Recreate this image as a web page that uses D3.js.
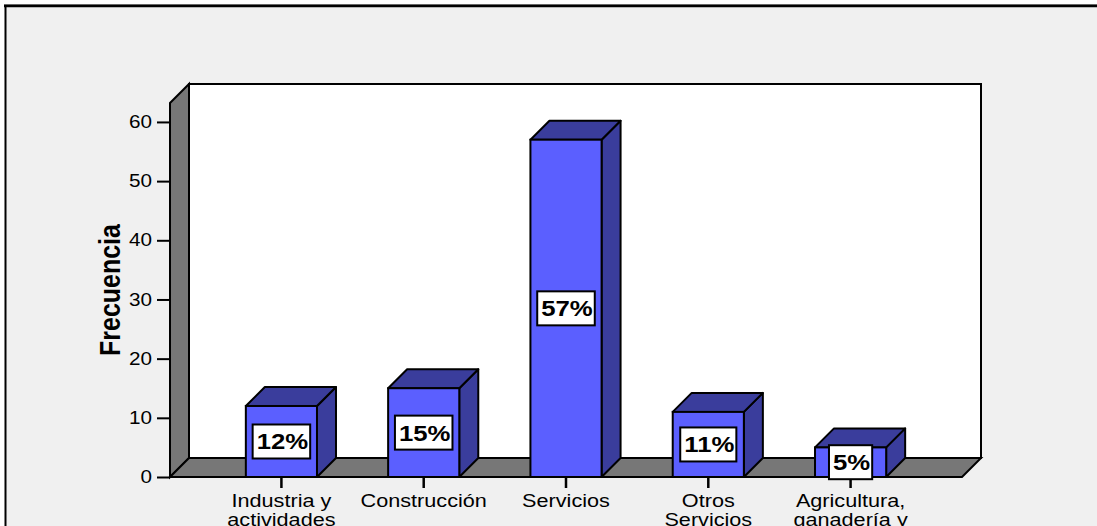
<!DOCTYPE html>
<html>
<head>
<meta charset="utf-8">
<script src="https://cdn.jsdelivr.net/npm/d3@7/dist/d3.min.js"></script>
<style>
  html, body { margin: 0; padding: 0; background: #ffffff; }
  svg { display: block; }
  text { font-family: "Liberation Sans", Arial, sans-serif; fill: #000; }
</style>
</head>
<body>
<svg id="chart" width="1097" height="526"></svg>
<script>
// Sector of activity: frequency per category
const categories = [
  "Industria y actividades extractivas",
  "Construcción",
  "Servicios",
  "Otros Servicios",
  "Agricultura, ganadería y pesca"
];
const frequencies = [12, 15, 57, 11, 5];
const yTicks = [0, 10, 20, 30, 40, 50, 60];
const yAxisTitle = "Frecuencia";

const W = 1097, H = 526;
const stretch = 1.17;          // horizontal text stretch of the original export
const depth = 19;              // 3D depth offset
const frontColor = "#5b5fff", darkColor = "#3a3d9c", wallColor = "#777777";

const svg = d3.select("#chart");

// frame
svg.append("rect").attr("width", W).attr("height", H).attr("fill", "#ffffff");
svg.append("rect").attr("x", 6).attr("y", 7).attr("width", W - 6).attr("height", H - 7).attr("fill", "#f0f0f0");
svg.append("line").attr("x1", 4).attr("x2", W).attr("y1", 4.5).attr("y2", 4.5)
  .attr("stroke", "#888").attr("stroke-width", 1);
svg.append("line").attr("x1", 4).attr("x2", W).attr("y1", 6).attr("y2", 6)
  .attr("stroke", "#000").attr("stroke-width", 2.5);
svg.append("line").attr("x1", 5.5).attr("x2", 5.5).attr("y1", 5).attr("y2", H)
  .attr("stroke", "#000").attr("stroke-width", 2);

// scales
const y = d3.scaleLinear().domain([0, 63.2]).range([477, 103]);
const x = d3.scaleBand().domain(categories).range([170, 962])
  .paddingInner(0.5).paddingOuter(0.533);

const x0 = x.range()[0], x1 = x.range()[1];
const yb = y(0), yt = y(y.domain()[1]);

// back wall
svg.append("rect")
  .attr("x", x0 + depth).attr("y", yt - depth)
  .attr("width", x1 - x0).attr("height", yb - yt)
  .attr("fill", "#ffffff").attr("stroke", "#000").attr("stroke-width", 2);

// left wall
svg.append("polygon")
  .attr("points", [[x0, yt], [x0 + depth, yt - depth], [x0 + depth, yb - depth], [x0, yb]].join(" "))
  .attr("fill", wallColor).attr("stroke", "#000").attr("stroke-width", 2)
  .attr("stroke-linejoin", "miter");

// floor
svg.append("polygon")
  .attr("points", [[x0, yb], [x0 + depth, yb - depth], [x1 + depth, yb - depth], [x1, yb]].join(" "))
  .attr("fill", wallColor).attr("stroke", "#000").attr("stroke-width", 2);

// y axis
const yAxis = svg.append("g")
  .attr("transform", `translate(${x0},0)`)
  .call(d3.axisLeft(y).tickValues(yTicks).tickSize(13).tickFormat(d3.format("d")));
yAxis.select(".domain").remove();
yAxis.selectAll(".tick line").attr("stroke", "#000").attr("stroke-width", 2);
yAxis.selectAll(".tick text")
  .attr("x", 0)
  .attr("transform", `translate(-18,0) scale(${stretch},1)`)
  .style("font-size", "17.7px")
  .style("font-family", "'Liberation Sans', Arial, sans-serif")
  .attr("fill", "#000");

// y title
svg.append("text")
  .attr("transform", `translate(109,290) scale(${stretch},1) rotate(-90)`)
  .attr("text-anchor", "middle")
  .attr("dy", "0.36em")
  .style("font-size", "25px")
  .style("font-weight", "bold")
  .text(yAxisTitle);

// x axis ticks
const xAxis = svg.append("g")
  .attr("transform", `translate(0,${yb})`)
  .call(d3.axisBottom(x).tickSize(11).tickFormat(""));
xAxis.select(".domain").remove();
xAxis.selectAll(".tick line").attr("stroke", "#000").attr("stroke-width", 2.5);

// category labels, wrapped by words
const labelSize = 18.5, lineGap = 19.5, maxLabelW = 128;
categories.forEach(cat => {
  const cx = x(cat) + x.bandwidth() / 2;
  const g = svg.append("g").attr("transform", `translate(${cx},507) scale(${stretch},1)`);
  const words = cat.split(" ");
  const lines = [];
  let cur = [];
  const probe = g.append("text").style("font-size", labelSize + "px");
  words.forEach(w => {
    const trial = cur.concat([w]).join(" ");
    probe.text(trial);
    if (cur.length && probe.node().getComputedTextLength() * stretch > maxLabelW) {
      lines.push(cur.join(" "));
      cur = [w];
    } else {
      cur.push(w);
    }
  });
  if (cur.length) lines.push(cur.join(" "));
  probe.remove();
  lines.forEach((ln, i) => {
    g.append("text")
      .attr("y", i * lineGap)
      .attr("text-anchor", "middle")
      .style("font-size", labelSize + "px")
      .text(ln);
  });
});

// 3D bars
const total = d3.sum(frequencies);
const bars = svg.append("g");
categories.forEach((cat, i) => {
  const v = frequencies[i];
  const bx0 = x(cat), bx1 = x(cat) + x.bandwidth();
  const top = y(v);
  const g = bars.append("g");
  g.append("polygon")
    .attr("points", [[bx1, top], [bx1 + depth, top - depth], [bx1 + depth, yb - depth], [bx1, yb]].join(" "))
    .attr("fill", darkColor).attr("stroke", "#000").attr("stroke-width", 2).attr("stroke-linejoin", "round");
  g.append("polygon")
    .attr("points", [[bx0, top], [bx0 + depth, top - depth], [bx1 + depth, top - depth], [bx1, top]].join(" "))
    .attr("fill", darkColor).attr("stroke", "#000").attr("stroke-width", 2).attr("stroke-linejoin", "round");
  g.append("rect")
    .attr("x", bx0).attr("y", top).attr("width", bx1 - bx0).attr("height", yb - top)
    .attr("fill", frontColor).attr("stroke", "#000").attr("stroke-width", 2);

  // percentage label in a white box
  const pct = Math.round(v / total * 100) + "%";
  const cx = (bx0 + bx1) / 2, cy = (top + yb) / 2;
  const lbl = g.append("g");
  const box = lbl.append("rect");
  const t = lbl.append("text")
    .style("font-size", "22px").style("font-weight", "bold")
    .attr("dy", "0.36em")
    .text(pct);
  const tw = t.node().getComputedTextLength() * stretch;
  const bw = tw + 6, bh = 34;
  box.attr("x", cx - bw / 2).attr("y", cy - bh / 2).attr("width", bw).attr("height", bh)
    .attr("fill", "#fff").attr("stroke", "#000").attr("stroke-width", 2);
  t.attr("transform", `translate(${cx - bw / 2 + 4},${cy}) scale(${stretch},1)`);
});
</script>
</body>
</html>
